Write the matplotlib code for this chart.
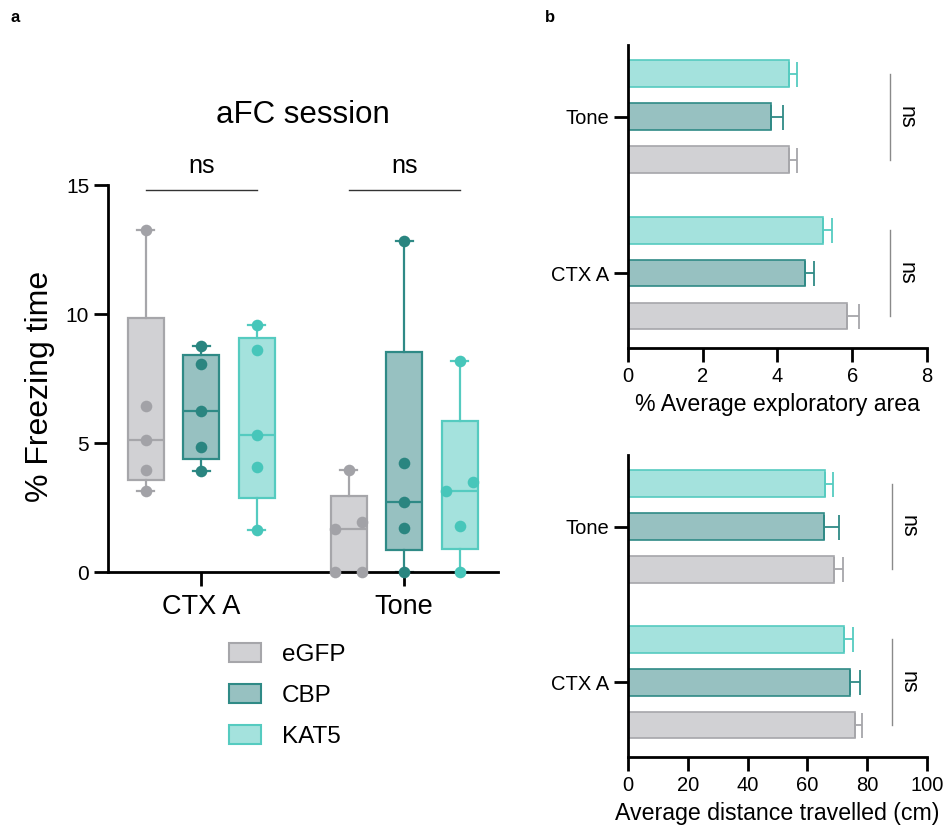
import numpy as np
import matplotlib
matplotlib.use("Agg")
import matplotlib.pyplot as plt
from matplotlib.patches import Patch

plt.rcParams["font.family"] = ["Liberation Sans", "DejaVu Sans"]

groups = ["eGFP", "CBP", "KAT5"]
sessions = ["CTX A", "Tone"]

# % freezing time per animal
freeze_ctx = {
    "eGFP": [13.25, 6.45, 5.1, 3.95, 3.15],
    "CBP": [8.77, 8.05, 6.25, 4.83, 3.93],
    "KAT5": [9.57, 8.6, 5.31, 4.08, 1.63],
}
freeze_tone = {
    "eGFP": [3.95, 1.93, 1.67, 0.0, 0.0],
    "CBP": [12.83, 4.21, 2.71, 1.69, 0.0],
    "KAT5": [8.18, 3.5, 3.15, 1.78, 0.0],
}
# horizontal spread of overlapping dots (-1 left, 0 centre, 1 right)
spread_ctx = {"eGFP": [0] * 5, "CBP": [0] * 5, "KAT5": [0] * 5}
spread_tone = {
    "eGFP": [0, 1, -1, -1, 1],
    "CBP": [0, 0, 0, 0, 0],
    "KAT5": [0, 1, -1, 0, 0],
}

# mean / sem, order: CTX A, Tone
area_mean = {"eGFP": [5.85, 4.3], "CBP": [4.73, 3.84], "KAT5": [5.22, 4.3]}
area_sem = {"eGFP": [0.34, 0.22], "CBP": [0.25, 0.32], "KAT5": [0.23, 0.23]}
dist_mean = {"eGFP": [76.0, 68.8], "CBP": [74.4, 65.4], "KAT5": [72.1, 66.0]}
dist_sem = {"eGFP": [2.3, 3.1], "CBP": [3.1, 5.2], "KAT5": [3.0, 2.7]}

fill = {"eGFP": "#d1d1d4", "CBP": "#97c1c1", "KAT5": "#a4e2dd"}
edge = {"eGFP": "#a6a6aa", "CBP": "#2f8a86", "KAT5": "#55cbc0"}
dot = {"eGFP": "#a2a2a7", "CBP": "#2a8580", "KAT5": "#47c6ba"}

fig = plt.figure(figsize=(9.48, 8.3), dpi=100)

# ---- a: box plots ----
ax = fig.add_axes([0.1139, 0.3108, 0.4114, 0.4663])
session_pos = [1.0, 4.66]
for s_idx, (data, spread) in enumerate([(freeze_ctx, spread_ctx), (freeze_tone, spread_tone)]):
    for g_idx, g in enumerate(groups):
        vals = np.array(data[g])
        pos = session_pos[s_idx] + (g_idx - 1)
        q1, med, q3 = np.percentile(vals, [25, 50, 75], method="weibull")
        st = dict(med=med, q1=q1, q3=q3, whislo=vals.min(), whishi=vals.max(), fliers=[])
        ax.bxp([st], positions=[pos], widths=0.65, patch_artist=True, showfliers=False,
               capwidths=0.3,
               boxprops=dict(facecolor=fill[g], edgecolor=edge[g], linewidth=1.6),
               medianprops=dict(color=edge[g], linewidth=1.6),
               whiskerprops=dict(color=edge[g], linewidth=1.6),
               capprops=dict(color=edge[g], linewidth=1.6))
        xs = pos + 0.24 * np.array(spread[g])
        ax.scatter(xs, vals, s=70, color=dot[g], zorder=5, clip_on=False, linewidths=0)

ax.set_xlim(-0.68, 6.35)
ax.set_ylim(0, 15)
ax.set_yticks([0, 5, 10, 15])
ax.set_xticks(session_pos)
ax.set_xticklabels(sessions, fontsize=19.5)
ax.tick_params(axis="y", labelsize=15, length=10, width=2)
ax.tick_params(axis="x", length=10, width=2, pad=6)
for sp in ["top", "right"]:
    ax.spines[sp].set_visible(False)
for sp in ["left", "bottom"]:
    ax.spines[sp].set_linewidth(2)

for p in session_pos:
    ax.plot([p - 1, p + 1], [14.8, 14.8], color="#333333", lw=1, clip_on=False)
    ax.text(p, 15.75, "ns", ha="center", va="center", fontsize=18, clip_on=False)

fig.text(303 / 948, 1 - 115 / 830, "aFC session", ha="center", va="center", fontsize=22.5)
fig.text(40 / 948, 1 - 386 / 830, "% Freezing time", rotation=90, ha="center",
         va="center", fontsize=23)

handles = [Patch(facecolor=fill[g], edgecolor=edge[g], linewidth=1.5, label=g) for g in groups]
fig.legend(handles=handles, loc="upper left", bbox_to_anchor=(229 / 948, 1 - 643 / 830),
           frameon=False, fontsize=17.5, handlelength=1.31, handleheight=0.82,
           handletextpad=0.87, labelspacing=0.74, borderpad=0, borderaxespad=0)


# ---- b: bar panels ----
def bar_panel(rect, means, sems, xmax, xstep, xlabel, ns_x, ns_tx):
    bx = fig.add_axes(rect)
    off = {"eGFP": -0.275, "CBP": 0.0, "KAT5": 0.275}
    for g in groups:
        ys = np.arange(len(sessions)) + off[g]
        bx.barh(ys, means[g], height=0.172, color=fill[g], edgecolor=edge[g], linewidth=1.2)
        bx.errorbar(means[g], ys, xerr=[np.zeros(len(sessions)), sems[g]], fmt="none",
                    ecolor=edge[g], elinewidth=1.3, capsize=9, capthick=1.3)
    for k in range(len(sessions)):
        bx.plot([ns_x, ns_x], [k - 0.275, k + 0.275], color="#8a8a8a", lw=1)
        bx.text(ns_tx, k, "ns", rotation=270, ha="center", va="center", fontsize=15.5)
    bx.set_xlim(0, xmax)
    bx.set_ylim(-0.48, 1.46)
    bx.set_xticks(np.arange(0, xmax + 1e-9, xstep))
    bx.set_yticks(range(len(sessions)))
    bx.set_yticklabels(sessions)
    bx.tick_params(labelsize=14.5, length=10, width=2)
    bx.set_xlabel(xlabel, fontsize=16.7, labelpad=5)
    for sp in ["top", "right"]:
        bx.spines[sp].set_visible(False)
    for sp in ["left", "bottom"]:
        bx.spines[sp].set_linewidth(2)
    return bx


bar_panel([0.6624, 0.5807, 0.3154, 0.3651], area_mean, area_sem, 8, 2,
          "% Average exploratory area", 7.0, 7.45)
bar_panel([0.6624, 0.0880, 0.3154, 0.3638], dist_mean, dist_sem, 100, 20,
          "Average distance travelled (cm)", 88.2, 93.6)

fig.text(15 / 948, 1 - 17 / 830, "a", fontsize=12, fontweight="bold", ha="center", va="center")
fig.text(550 / 948, 1 - 17 / 830, "b", fontsize=12, fontweight="bold", ha="center", va="center")

fig.savefig("out.png", dpi=100)
